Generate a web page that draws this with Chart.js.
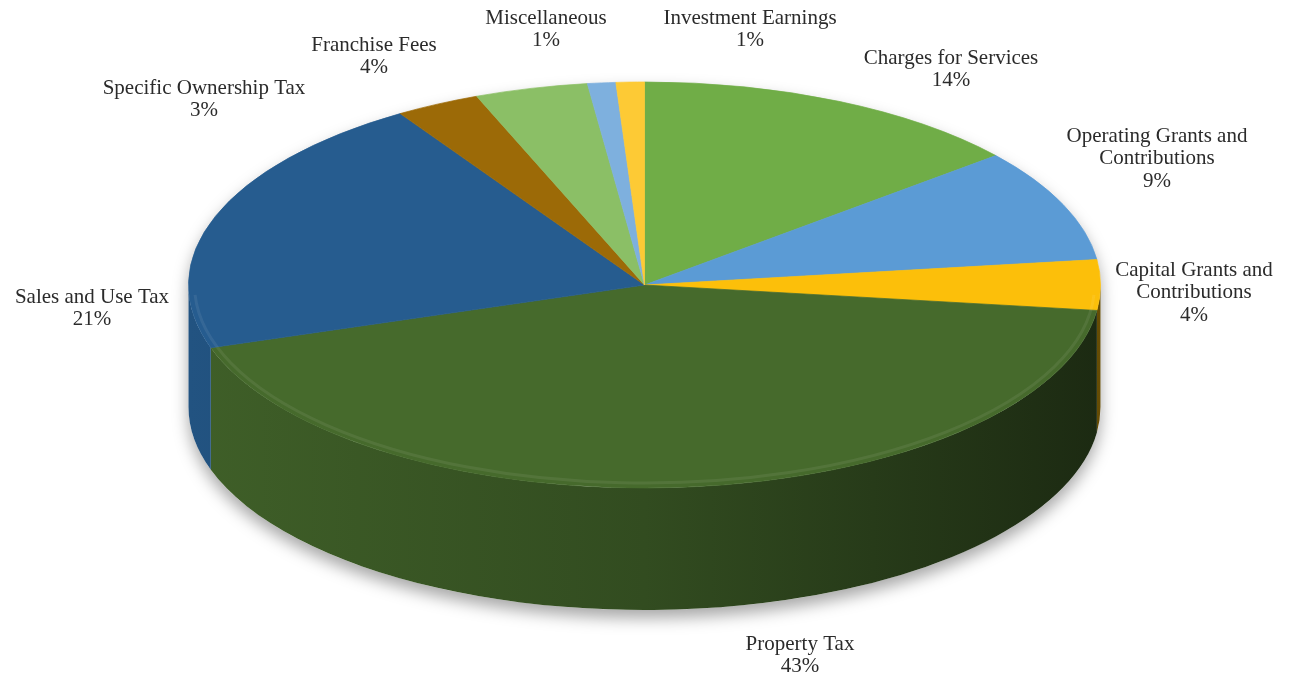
<!DOCTYPE html>
<html>
<head>
<meta charset="utf-8">
<script src="https://cdn.jsdelivr.net/npm/chart.js@4.4.1/dist/chart.umd.min.js"></script>
<style>
  html, body { margin: 0; padding: 0; background: #fff; }
  #wrap { width: 1291px; height: 675px; position: relative; }
</style>
</head>
<body>
<div id="wrap"><canvas id="revenue-pie"></canvas></div>
<script>
// slices, clockwise from 12 o'clock
const categories = [
  'Charges for Services',
  'Operating Grants and Contributions',
  'Capital Grants and Contributions',
  'Property Tax',
  'Sales and Use Tax',
  'Specific Ownership Tax',
  'Franchise Fees',
  'Miscellaneous',
  'Investment Earnings'
];
const shares = [14, 9, 4, 43, 21, 3, 4, 1, 1];
const sliceColors = ['#70ad47', '#5b9bd5', '#fcbf0a', '#466a2c', '#265c8f', '#9c6a07', '#8bbf66', '#7eb0de', '#fdca35'];

// tilted pie: horizontal radius, squashed vertical radius, thickness of the wall
const RX = 456, RY = 203, DEPTH = 122;

// where each data label sits (centre of its first line)
const labelAt = [[951, 58], [1157, 136], [1194, 270], [800, 644], [92, 297], [204, 88], [374, 45], [546, 18], [750, 18]];

function shade(hex, f) {
  const n = parseInt(hex.slice(1), 16);
  const r = Math.round(((n >> 16) & 255) * f);
  const g = Math.round(((n >> 8) & 255) * f);
  const b = Math.round((n & 255) * f);
  return 'rgb(' + r + ',' + g + ',' + b + ')';
}

function wrapText(ctx, text, maxWidth) {
  const words = text.split(' ');
  const lines = [];
  let line = '';
  words.forEach(w => {
    const test = line ? line + ' ' + w : w;
    if (line && ctx.measureText(test).width > maxWidth) {
      lines.push(line);
      line = w;
    } else {
      line = test;
    }
  });
  if (line) lines.push(line);
  return lines;
}

const tiltPlugin = {
  id: 'tilt',
  beforeDatasetsDraw(chart) {
    const ctx = chart.ctx;
    const arcs = chart.getDatasetMeta(0).data;
    if (!arcs.length) return;
    const cx = arcs[0].x, cy = arcs[0].y;

    // soft shadow under the body
    ctx.save();
    ctx.shadowColor = 'rgba(0,0,0,0.35)';
    ctx.shadowBlur = 16;
    ctx.shadowOffsetY = 8;
    ctx.fillStyle = '#fff';
    ctx.beginPath();
    ctx.ellipse(cx, cy + DEPTH, RX, RY, 0, 0, Math.PI);
    ctx.lineTo(cx - RX, cy);
    ctx.ellipse(cx, cy, RX, RY, 0, Math.PI, 2 * Math.PI);
    ctx.closePath();
    ctx.fill();
    ctx.restore();

    // front walls of the slices
    arcs.forEach((arc, i) => {
      const p = arc.getProps(['startAngle', 'endAngle']);
      const lo = Math.max(p.startAngle, 0);
      const hi = Math.min(p.endAngle, Math.PI);
      if (hi <= lo) return;
      const base = sliceColors[i];
      const g = ctx.createLinearGradient(cx - RX, 0, cx + RX, 0);
      g.addColorStop(0, shade(base, 0.9));
      g.addColorStop(0.5, shade(base, 0.72));
      g.addColorStop(1, shade(base, 0.4));
      ctx.beginPath();
      ctx.ellipse(cx, cy, RX, RY, 0, lo, hi);
      ctx.ellipse(cx, cy + DEPTH, RX, RY, 0, hi, lo, true);
      ctx.closePath();
      ctx.fillStyle = g;
      ctx.fill();
    });

    // squash the top face
    ctx.save();
    ctx.translate(cx, cy);
    ctx.scale(1, RY / RX);
    ctx.translate(-cx, -cy);
  },
  afterDatasetsDraw(chart) {
    const ctx = chart.ctx;
    ctx.restore();
    const arcs = chart.getDatasetMeta(0).data;
    if (!arcs.length) return;
    const cx = arcs[0].x, cy = arcs[0].y;

    // faint bevel along the front rim
    ctx.save();
    ctx.strokeStyle = 'rgba(255,255,255,0.07)';
    ctx.lineWidth = 3;
    ctx.beginPath();
    ctx.ellipse(cx, cy, RX - 6, RY - 5, 0, 0.05, Math.PI - 0.05);
    ctx.stroke();
    ctx.restore();

    // data labels
    const total = shares.reduce((a, b) => a + b, 0);
    ctx.save();
    ctx.font = '21px "Liberation Serif", "Times New Roman", serif';
    ctx.fillStyle = '#2b2b2b';
    ctx.textAlign = 'center';
    ctx.textBaseline = 'middle';
    categories.forEach((name, i) => {
      const lines = wrapText(ctx, name, 215);
      lines.push(Math.round(shares[i] / total * 100) + '%');
      const [x, y] = labelAt[i];
      lines.forEach((t, k) => ctx.fillText(t, x, y + k * 22.5));
    });
    ctx.restore();
  }
};

new Chart(document.getElementById('revenue-pie'), {
  type: 'pie',
  data: {
    labels: categories,
    datasets: [{
      data: shares,
      backgroundColor: sliceColors,
      borderColor: sliceColors,
      borderWidth: 1,
      radius: RX,
      clip: 1000
    }]
  },
  options: {
    responsive: true,
    maintainAspectRatio: false,
    animation: false,
    layout: { padding: { top: 0, bottom: 105, left: 0, right: 2 } },
    plugins: {
      legend: { display: false },
      tooltip: { enabled: false }
    }
  },
  plugins: [tiltPlugin]
});
</script>
</body>
</html>
